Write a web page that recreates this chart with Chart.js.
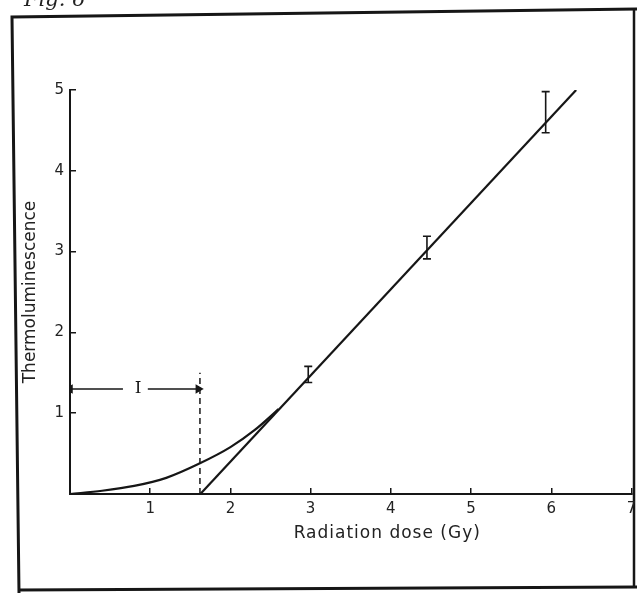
<!DOCTYPE html>
<html>
<head>
<meta charset="utf-8">
<script src="https://cdn.jsdelivr.net/npm/chart.js@4.4.1/dist/chart.umd.min.js"></script>
<style>
  html, body { margin: 0; padding: 0; background: #fff; }
  canvas { display: block; }
</style>
</head>
<body>
<canvas id="fig" width="637" height="593"></canvas>
<script>
// low-dose (supralinear) part of the response
const curveDose = [0, 0.4, 0.8, 1.2, 1.62, 2.0, 2.3, 2.6];
const curveSignal = [0, 0.04, 0.1, 0.2, 0.38, 0.58, 0.79, 1.05];

// linear fit, extrapolated back to the dose axis
const fitDose = [1.625, 6.31];
const fitSignal = [0, 5.0];

// measured points with error bars
const barDose = [2.97, 4.45, 5.93];
const barLow = [1.38, 2.91, 4.47];
const barHigh = [1.58, 3.19, 4.98];

// intercept marker and the "I" span
const interceptDose = 1.62;
const interceptTop = 1.5;
const spanLevel = 1.3;
const spanLeft = [0.66, 0];
const spanRight = [0.97, 1.6];
const spanLabelDose = 0.85;

const xTicks = [1, 2, 3, 4, 5, 6, 7];
const yTicks = [1, 2, 3, 4, 5];

const ink = '#161616';

function pts(xs, ys) {
  return xs.map((x, i) => ({ x: x, y: ys[i] }));
}

const paperFrame = {
  id: 'paperFrame',
  beforeDraw(chart) {
    const ctx = chart.ctx;
    ctx.save();
    ctx.fillStyle = '#fff';
    ctx.fillRect(0, 0, chart.width, chart.height);

    // border round the figure
    ctx.strokeStyle = ink;
    ctx.lineWidth = 3;
    ctx.beginPath();
    ctx.moveTo(637, 9);
    ctx.lineTo(12, 17);
    ctx.lineTo(19, 593);
    ctx.moveTo(19, 590);
    ctx.lineTo(637, 587);
    ctx.stroke();
    ctx.lineWidth = 2.5;
    ctx.beginPath();
    ctx.moveTo(634, 10);
    ctx.lineTo(634, 588);
    ctx.stroke();

    ctx.font = 'italic 21px "DejaVu Serif"';
    ctx.fillStyle = '#222';
    ctx.fillText('Fig. 6', 24, 6);
    ctx.restore();
  },
  afterDatasetsDraw(chart) {
    const ctx = chart.ctx;
    const xs = chart.scales.x;
    const ys = chart.scales.y;
    ctx.save();
    ctx.strokeStyle = ink;
    ctx.lineWidth = 1.6;

    // error bars
    barDose.forEach((d, i) => {
      const px = xs.getPixelForValue(d);
      const top = ys.getPixelForValue(barHigh[i]);
      const bot = ys.getPixelForValue(barLow[i]);
      ctx.beginPath();
      ctx.moveTo(px, top);
      ctx.lineTo(px, bot);
      ctx.moveTo(px - 4, top);
      ctx.lineTo(px + 4, top);
      ctx.moveTo(px - 4, bot);
      ctx.lineTo(px + 4, bot);
      ctx.stroke();
    });

    // span label
    ctx.fillStyle = ink;
    ctx.font = '17px "DejaVu Serif"';
    ctx.textAlign = 'center';
    ctx.textBaseline = 'middle';
    ctx.fillText('I', xs.getPixelForValue(spanLabelDose), ys.getPixelForValue(spanLevel));

    // dose axis title
    const area = chart.chartArea;
    ctx.font = '17px "DejaVu Sans"';
    ctx.letterSpacing = '1px';
    ctx.fillStyle = '#222';
    ctx.fillText('Radiation dose (Gy)', area.left + 0.565 * (area.right - area.left), 534);
    ctx.restore();
  }
};

const tickFont = { family: 'DejaVu Sans', size: 15 };

new Chart(document.getElementById('fig'), {
  type: 'scatter',
  data: {
    datasets: [
      {
        data: pts(curveDose, curveSignal),
        showLine: true,
        cubicInterpolationMode: 'monotone',
        borderColor: ink,
        borderWidth: 2.2,
        pointRadius: 0
      },
      {
        data: pts(fitDose, fitSignal),
        showLine: true,
        borderColor: ink,
        borderWidth: 2.2,
        pointRadius: 0
      },
      {
        data: pts([interceptDose, interceptDose], [0, interceptTop]),
        showLine: true,
        borderColor: ink,
        borderWidth: 1.5,
        borderDash: [6, 4],
        pointRadius: 0
      },
      {
        data: pts(spanLeft, [spanLevel, spanLevel]),
        showLine: true,
        borderColor: ink,
        backgroundColor: ink,
        borderWidth: 1.5,
        pointStyle: 'triangle',
        pointRadius: [0, 4],
        rotation: [0, -90]
      },
      {
        data: pts(spanRight, [spanLevel, spanLevel]),
        showLine: true,
        borderColor: ink,
        backgroundColor: ink,
        borderWidth: 1.5,
        pointStyle: 'triangle',
        pointRadius: [0, 4],
        rotation: [0, 90]
      }
    ]
  },
  options: {
    responsive: false,
    animation: false,
    layout: { padding: { left: 13, top: 90, right: 4, bottom: 59 } },
    plugins: {
      legend: { display: false },
      tooltip: { enabled: false }
    },
    scales: {
      x: {
        type: 'linear',
        min: 0,
        max: 7,
        afterBuildTicks: (scale) => { scale.ticks = [0, ...xTicks].map(v => ({ value: v })); },
        afterFit: (scale) => {
          scale.height = 40;
          scale.paddingLeft = 0;
          scale.paddingRight = 0;
        },
        border: { color: ink, width: 2 },
        grid: { drawOnChartArea: false, tickLength: -6, color: ink, lineWidth: 1.5 },
        ticks: {
          padding: 12,
          color: '#222',
          font: tickFont,
          callback: (v) => (xTicks.includes(v) ? String(v) : '')
        }
      },
      y: {
        type: 'linear',
        min: 0,
        max: 5,
        afterBuildTicks: (scale) => { scale.ticks = [0, ...yTicks].map(v => ({ value: v })); },
        afterFit: (scale) => {
          scale.width = 57;
          scale.paddingTop = 0;
          scale.paddingBottom = 0;
        },
        border: { color: ink, width: 2 },
        grid: { drawOnChartArea: false, tickLength: -6, color: ink, lineWidth: 1.5 },
        ticks: {
          padding: 12,
          color: '#222',
          font: tickFont,
          callback: (v) => (yTicks.includes(v) ? String(v) : '')
        },
        title: {
          display: true,
          text: 'Thermoluminescence',
          color: '#222',
          font: { family: 'DejaVu Sans', size: 17 },
          padding: { top: 7, bottom: 4 }
        }
      }
    }
  },
  plugins: [paperFrame]
});
</script>
</body>
</html>
